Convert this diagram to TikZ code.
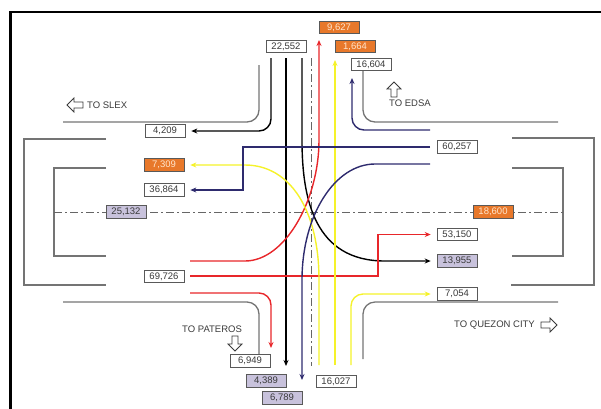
\documentclass[tikz,border=0pt]{standalone}
\usepackage{fontspec}
\setmainfont{Liberation Sans}
\usetikzlibrary{arrows.meta}
\definecolor{roadgray}{HTML}{747474}
\definecolor{cline}{HTML}{666666}
\definecolor{flowred}{HTML}{E8262A}
\definecolor{flowyel}{HTML}{F5F22A}
\definecolor{flownavy}{HTML}{2E2B6E}
\definecolor{boxorange}{HTML}{E8782A}
\definecolor{boxlav}{HTML}{C8C2DC}
\definecolor{txtgray}{HTML}{3A3A3A}
\tikzset{
  x=1pt, y=-1pt,
  road/.style={draw=roadgray, line width=1.3pt},
  centreline/.style={draw=cline, line width=0.9pt, dash pattern=on 8pt off 3pt on 2pt off 3pt},
  numbox/.style={draw=gray!70!black, line width=0.6pt, minimum width=40pt, minimum height=12.5pt, inner sep=0pt,
                 font=\fontsize{9.5}{10}\selectfont, text=txtgray},
  wbox/.style={numbox, fill=white},
  obox/.style={numbox, fill=boxorange, text=orange!20},
  pbox/.style={numbox, fill=boxlav},
  dirlabel/.style={font=\fontsize{9.5}{10}\selectfont, text=txtgray, inner sep=0pt},
  hollow/.style={draw=txtgray, line width=0.8pt, fill=white, line join=miter},
  flow/.style={line width=1.4pt, -{Stealth[length=6pt,width=5pt]}},
  blkflow/.style={flow, draw=black},
  redflow/.style={flow, draw=flowred},
  yelflow/.style={flow, draw=flowyel},
  navyflow/.style={flow, draw=flownavy},
}
\begin{document}
\begin{tikzpicture}
\useasboundingbox (0,0) rectangle (601,408);
% frame
\draw[line width=2.8pt] (10.5,410) -- (10.5,12) -- (603,12);

% road edges
\draw[road, rounded corners=12pt] (63,122) -| (259,65);
\draw[road, rounded corners=12pt] (363,71) |- (558,122);
\draw[road, rounded corners=12pt] (63,302) -| (259,354);
\draw[road, rounded corners=12pt] (363,359) |- (558,302);
\draw[road] (106,139) -- (24,139) -- (24,285) -- (106,285);
\draw[road] (106,168) -- (54,168) -- (54,256) -- (106,256);
\draw[road] (512,138) -- (594,138) -- (594,285) -- (511,285);
\draw[road] (512,168) -- (563,168) -- (563,256) -- (512,256);

% centre lines
\coordinate (hcl1) at (54,212);
\coordinate (hcl2) at (563,212);
\coordinate (vcl1) at (311,58);
\coordinate (vcl2) at (311,366);
\draw[centreline] (hcl1) -- (hcl2);
\draw[centreline] (vcl1) -- (vcl2);

% count boxes
\node[wbox] (n22552) at (286,46.5) {22,552};
\node[obox] (n9627) at (339,27.5) {9,627};
\node[obox] (n1664) at (355,46.5) {1,664};
\node[wbox] (n16604) at (371,64.5) {16,604};
\node[wbox] (n4209) at (165,131) {4,209};
\node[obox] (n7309) at (164,165) {7,309};
\node[wbox] (n36864) at (164,190) {36,864};
\node[wbox] (n60257) at (457,147) {60,257};
\node[pbox] (n25132) at (126,212) {25,132};
\node[obox] (n18600) at (493,212) {18,600};
\node[wbox] (n53150) at (457,234.5) {53,150};
\node[pbox] (n13955) at (457,261) {13,955};
\node[wbox] (n7054) at (457,294) {7,054};
\node[wbox] (n69726) at (164,276.5) {69,726};
\node[wbox] (n6949) at (250,361) {6,949};
\node[pbox] (n4389) at (266,381) {4,389};
\node[pbox] (n6789) at (282,398) {6,789};
\node[wbox] (n16027) at (336,381.5) {16,027};

% direction labels
\node[dirlabel, anchor=west] (slex) at (87,105) {TO SLEX};
\node[dirlabel, anchor=west] (edsa) at (389,103) {TO EDSA};
\node[dirlabel, anchor=west] (pateros) at (182,329) {TO PATEROS};
\node[dirlabel, anchor=west] (quezon) at (454,325) {TO QUEZON CITY};
\draw[hollow] (67,105) -- (74,98) -- (74,102) -- (83,102) -- (83,108) -- (74,108) -- (74,112) -- cycle;
\draw[hollow] (394,82) -- (401,89) -- (397,89) -- (397,97) -- (391,97) -- (391,89) -- (387,89) -- cycle;
\draw[hollow] (235,351) -- (242,344) -- (238,344) -- (238,336) -- (232,336) -- (232,344) -- (228,344) -- cycle;
\draw[hollow] (557,325) -- (550,318) -- (550,322) -- (541,322) -- (541,328) -- (550,328) -- (550,332) -- cycle;

% flow start points
\coordinate (b1s) at (271,58);
\coordinate (b2s) at (286,58);
\coordinate (b3s) at (302,58);
\coordinate (r1s) at (190,261);
\coordinate (r2s) at (190,276);
\coordinate (r3s) at (190,293);
\coordinate (y1s) at (319,365);
\coordinate (y2s) at (335,365);
\coordinate (y3s) at (351,365);
\coordinate (n1s) at (430,147);
\coordinate (n2s) at (430,164);
\coordinate (n3s) at (430,130);

% black flows
\draw[blkflow, rounded corners=12pt] (b1s) |- ([xshift=6pt]n4209.east);
\draw[blkflow] (b2s) -- (286,366);
\draw[blkflow] (b3s) -- (302,140) .. controls (302,200) and (315,261) .. (385,261) -- ([xshift=-6pt]n13955.west);

% red flows
\draw[redflow] (r1s) -- (245,261) .. controls (285,261) and (319,200) .. (319,140) -- (319,40);
\draw[redflow] (r2s) -- (378,276) -- (378,234.5) -- ([xshift=-6pt]n53150.west);
\draw[redflow, rounded corners=12pt] (r3s) -| (271,348);

% yellow flows
\draw[yelflow] (y1s) -- (319,280) .. controls (319,210) and (290,165) .. (245,165) -- ([xshift=6pt]n7309.east);
\draw[yelflow] (y2s) -- (335,60);
\draw[yelflow, rounded corners=12pt] (y3s) |- ([xshift=-6pt]n7054.west);

% navy flows
\draw[navyflow] (n1s) -- (243,147) -- (243,190) -- ([xshift=6pt]n36864.east);
\draw[navyflow] (n2s) -- (375,164) .. controls (335,164) and (302,215) .. (302,280) -- (302,380);
\draw[navyflow, rounded corners=12pt] (n3s) -| (352,78);
\end{tikzpicture}
\end{document}
